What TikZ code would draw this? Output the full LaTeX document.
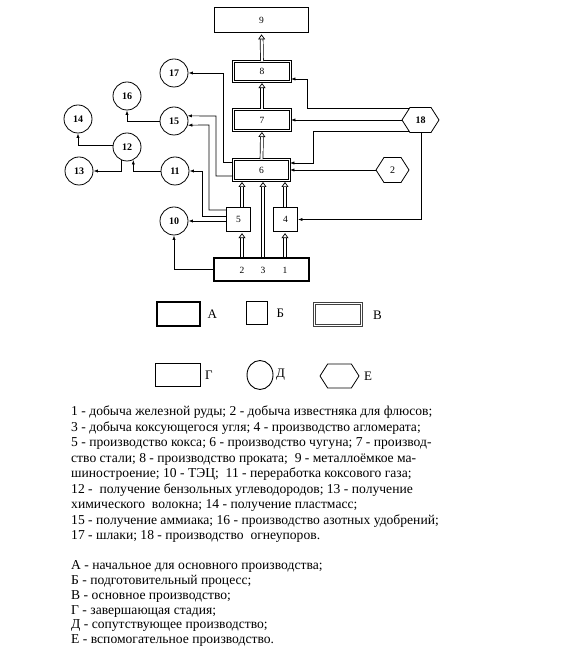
\documentclass[tikz,border=0pt]{standalone}
\usepackage{fontspec}
\setmainfont{Liberation Serif}
\usetikzlibrary{arrows.meta,shapes.symbols,shapes.geometric}
\begin{document}
\begin{tikzpicture}[x=1pt,y=1pt,
  arr/.style={line width=0.7pt,-{Latex[length=4.5pt,width=3.2pt]}},
  dbl/.style={draw=black,line width=3.6pt,shorten >=6pt,
     postaction={draw=white,line width=2.2pt,shorten >=6pt},
     postaction={draw=white,line width=0.4pt,shorten >=1.2pt,
       -{Triangle[open,color=black,length=5pt,width=7pt,line width=0.7pt]}}},
  boxA/.style={draw,line width=1.8pt,inner sep=0pt},
  boxG/.style={draw,line width=1.4pt,inner sep=0pt},
  boxL/.style={draw,line width=1.1pt,inner sep=0pt},
  boxB/.style={draw,line width=0.9pt,inner sep=0pt},
  boxV/.style={draw,double,double distance=1.6pt,line width=0.6pt,inner sep=0pt},
  circ/.style={draw,circle,line width=0.8pt,minimum size=28pt,inner sep=0pt,font=\bfseries\fontsize{10}{10}\selectfont},
  hexa/.style={draw,signal,signal to=west and east,signal pointer angle=115,line width=0.8pt,inner sep=0pt},
  num/.style={font=\fontsize{9.5}{9.5}\selectfont,inner sep=0pt},
  txt/.style={anchor=base west,inner sep=0pt,font=\fontsize{13.6}{15.5}\selectfont},
  leg/.style={anchor=west,inner sep=0pt,font=\fontsize{13}{13}\selectfont}]
\useasboundingbox (0,0) rectangle (585,653);
% main boxes
\node[boxG,minimum width=94pt,minimum height=25pt,num] (b9) at (261.5,633) {9};
\node[boxV,minimum width=57.2pt,minimum height=20.2pt,num] (b8) at (262,581.5) {8};
\node[boxV,minimum width=57.2pt,minimum height=21pt,num] (b7) at (262,533) {7};
\node[boxV,minimum width=56.2pt,minimum height=21pt,num] (b6) at (261.5,483) {6};
\node[boxB,minimum width=24pt,minimum height=24pt,num] (b5) at (238.5,433.5) {5};
\node[boxB,minimum width=24pt,minimum height=24pt,num] (b4) at (285.5,433.5) {4};
\node[boxA,minimum width=95pt,minimum height=23pt] (bA) at (261.5,383.5) {};
\node[num] (nA2) at (242,383) {2};
\node[num] (nA3) at (263,383) {3};
\node[num] (nA1) at (285,383) {1};
% circles
\node[circ] (c17) at (174,580) {17};
\node[circ] (c15) at (174,532) {15};
\node[circ] (c16) at (127,557) {16};
\node[circ] (c14) at (78,534) {14};
\node[circ] (c12) at (127,506) {12};
\node[circ] (c13) at (79,482) {13};
\node[circ] (c11) at (175,482) {11};
\node[circ] (c10) at (174,432) {10};
% hexagons
\node[hexa,minimum width=37pt,minimum height=25pt,font=\bfseries\fontsize{10}{10}\selectfont] (h18) at (420.5,533) {18};
\node[hexa,minimum width=33pt,minimum height=25pt,font=\fontsize{10}{10}\selectfont] (h2) at (392.5,483) {2};
% bend points
\coordinate (k17) at (223,580);
\coordinate (k15a) at (216,537);
\coordinate (k15b) at (209,528);
\coordinate (k11) at (202,482);
\coordinate (k8) at (307,574);
\coordinate (k6) at (313,490);
% double arrows
\draw[dbl] (b8.north) -- (b9.south);
\draw[dbl] (b7.north) -- (b8.south);
\draw[dbl] (b6.north) -- (b7.south);
\draw[dbl] (nA2 |- bA.north) -- (nA2 |- b5.south);
\draw[dbl] (nA2 |- b5.north) -- (nA2 |- b6.south);
\draw[dbl] (nA3 |- bA.north) -- (nA3 |- b6.south);
\draw[dbl] (nA1 |- bA.north) -- (nA1 |- b4.south);
\draw[dbl] (nA1 |- b4.north) -- (nA1 |- b6.south);
% thin connectors
\draw[arr] ([yshift=8pt]b6.west) -| (k17) -- (c17.east);
\draw[arr] ([yshift=-6pt]b6.west) -| (k15a) -- (c15.21);
\draw[arr] ([yshift=9.5pt]b5.west) -| (k15b) -- (c15.-17);
\draw[arr] ([yshift=3.5pt]b5.west) -| (k11) -- (c11.east);
\draw[arr] (c10.east -| b5.west) -- (c10.east);
\draw[arr] (bA.west) -| (c10.south);
\draw[arr] (c11.west) -| (c12.-64.5);
\draw[arr] (c12.-115.5) |- (c13.east);
\draw[arr] (c12.172) -| (c14.south);
\draw[arr] (c15.west) -| (c16.south);
\draw[arr] (h18.136) -| (k8) -- (k8 -| b8.east);
\draw[arr] (h18.west) -- (h18.west -| b7.east);
\draw[arr] (h18.-136) -| (k6) -- (k6 -| b6.east);
\draw[arr] ([xshift=0.5pt]h18.south) |- (b4.east);
\draw[arr] (h2.west) -- (h2.west -| b6.east);
% legend
\node[boxA,minimum width=43pt,minimum height=24pt] (LA) at (178.5,339) {};
\node[leg] (tA) at (207.5,339) {А};
\node[boxB,minimum width=21pt,minimum height=23pt] (LB) at (257,340) {};
\node[leg] (tB) at (276.5,340) {Б};
\node[boxV,minimum width=47.2pt,minimum height=22.2pt,draw=black!75] (LV) at (338,338.5) {};
\node[leg] (tV) at (373,338) {В};
\node[boxL,minimum width=45pt,minimum height=23pt] (LG) at (178,278) {};
\node[leg] (tG) at (205,278) {Г};
\node[draw,ellipse,line width=0.9pt,minimum width=26pt,minimum height=29pt,inner sep=0pt] (LD) at (260,278) {};
\node[leg] (tD) at (276,278) {Д};
\node[hexa,minimum width=39pt,minimum height=24pt] (LE) at (339.5,277) {};
\node[leg] (tE) at (364,277) {Е};
% text
\node[txt] (t1) at (71,237) {1 - добыча железной руды; 2 - добыча известняка для флюсов;};
\node[txt] (t2) at (71,221.5) {3 - добыча коксующегося угля; 4 - производство агломерата;};
\node[txt] (t3) at (71,206) {5 - производство кокса; 6 - производство чугуна; 7 - производ-};
\node[txt] (t4) at (71,190.5) {ство стали; 8 - производство проката;\ \ 9 - металлоёмкое ма-};
\node[txt] (t5) at (71,175) {шиностроение; 10 - ТЭЦ;\ \ 11 - переработка коксового газа;};
\node[txt] (t6) at (71,159.5) {12 -\ \ получение бензольных углеводородов; 13 - получение};
\node[txt] (t7) at (71,144) {химического\ \ волокна; 14 - получение пластмасс;};
\node[txt] (t8) at (71,128.5) {15 - получение аммиака; 16 - производство азотных удобрений;};
\node[txt] (t9) at (71,113) {17 - шлаки; 18 - производство\ \ огнеупоров.};
\node[txt] (l1) at (71,83) {А - начальное для основного производства;};
\node[txt] (l2) at (71,68.3) {Б - подготовительный процесс;};
\node[txt] (l3) at (71,53.6) {В - основное производство;};
\node[txt] (l4) at (71,38.9) {Г - завершающая стадия;};
\node[txt] (l5) at (71,24.2) {Д - сопутствующее производство;};
\node[txt] (l6) at (71,9.5) {Е - вспомогательное производство.};
\end{tikzpicture}
\end{document}
